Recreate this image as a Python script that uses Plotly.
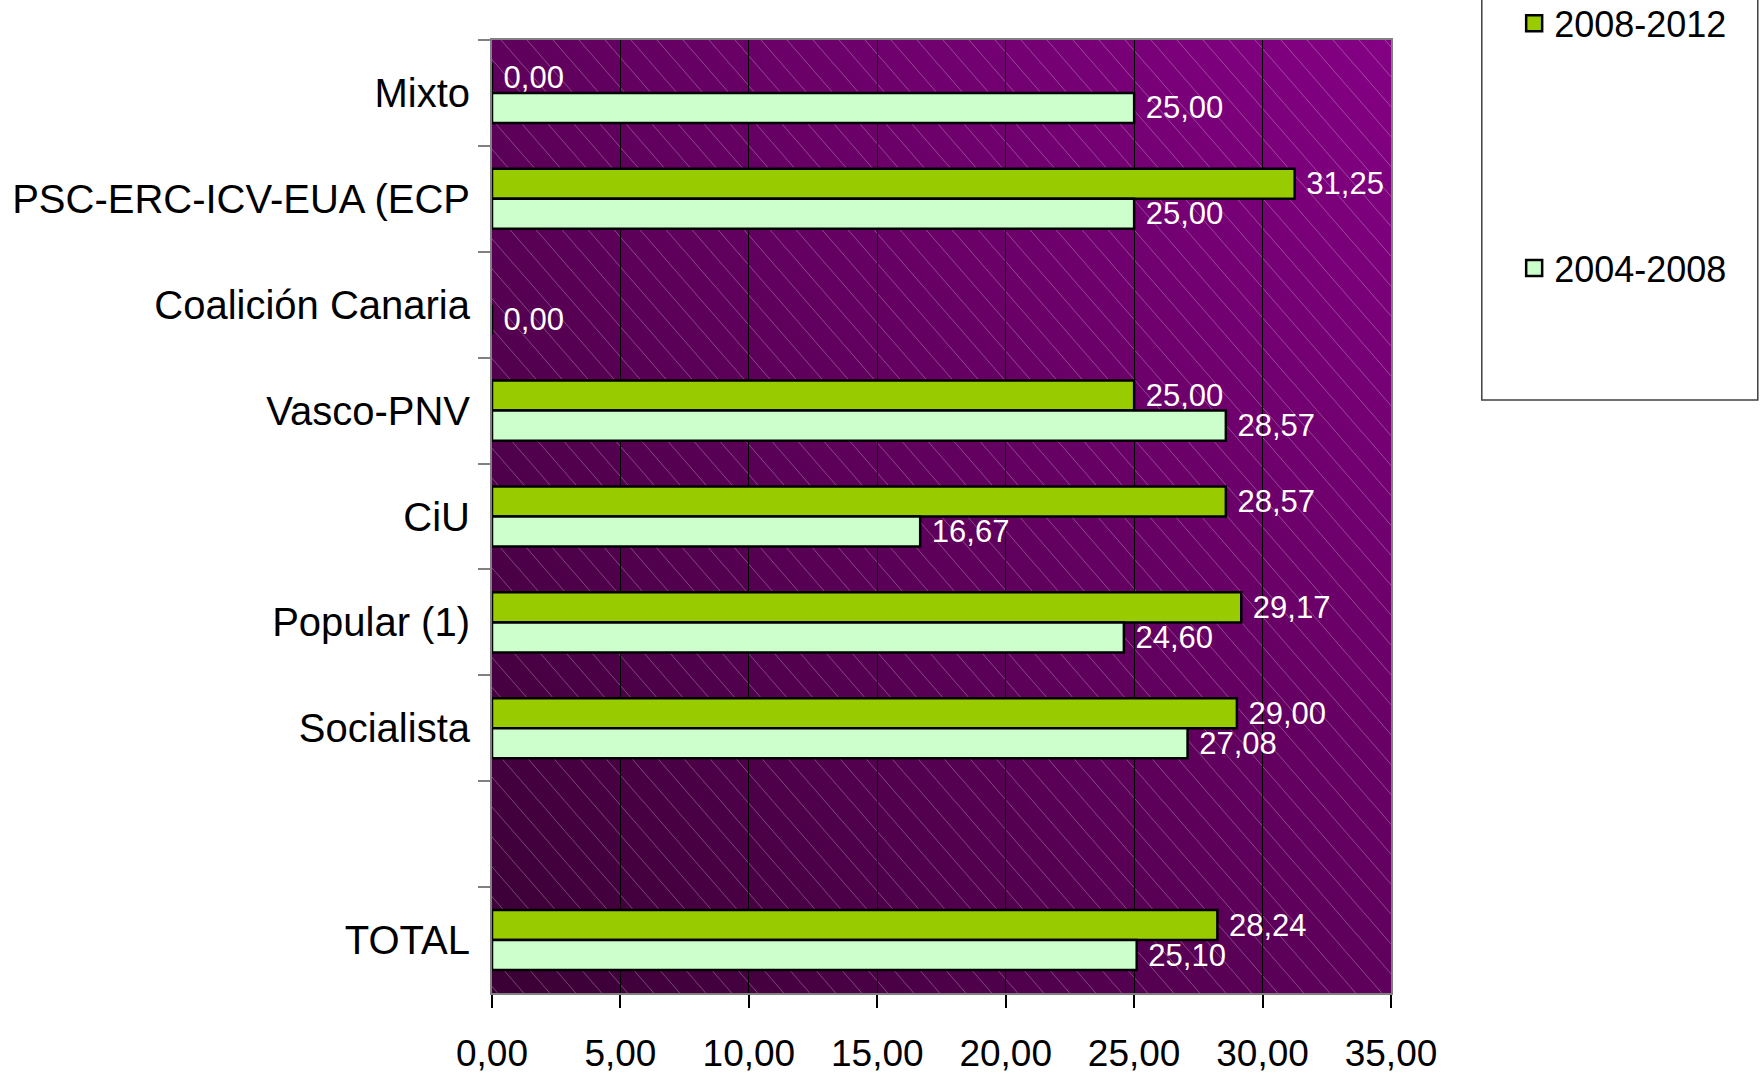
import base64
import plotly.graph_objects as go

# ---- data (top to bottom) ----
categories = ["Mixto", "PSC-ERC-ICV-EUA (ECP", "Coalición Canaria", "Vasco-PNV",
              "CiU", "Popular (1)", "Socialista", " ", "TOTAL"]
v_2008_2012 = [0.00, 31.25, None, 25.00, 28.57, 29.17, 29.00, None, 28.24]
v_2004_2008 = [25.00, 25.00, 0.00, 28.57, 16.67, 24.60, 27.08, None, 25.10]
series_names = ["2008-2012", "2004-2008"]
series_colors = ["#99CC00", "#CCFFCC"]
x_ticks = [0, 5, 10, 15, 20, 25, 30, 35]

FONT = "Liberation Sans, Arial, sans-serif"

# background: diagonal purple gradient with light hatch lines
W, H = 899, 953
lines = []
step = 26
for i in range(-H, W + H, step):
    lines.append(f'<line x1="{i}" y1="0" x2="{i + H / 1.15:.1f}" y2="{H}" />')
svg = f'''<svg xmlns="http://www.w3.org/2000/svg" width="{W}" height="{H}" viewBox="0 0 {W} {H}" preserveAspectRatio="none">
<defs><linearGradient id="g" x1="0" y1="1" x2="1" y2="0">
<stop offset="0" stop-color="#3a0034"/><stop offset="1" stop-color="#840084"/></linearGradient></defs>
<rect width="{W}" height="{H}" fill="url(#g)"/>
<g stroke="#ffffff" stroke-opacity="0.28" stroke-width="1">{''.join(lines)}</g>
</svg>'''
src = "data:image/svg+xml;base64," + base64.b64encode(svg.encode()).decode()

fig = go.Figure()
for name, vals, col in zip(series_names, [v_2008_2012, v_2004_2008], series_colors):
    fig.add_trace(go.Bar(
        y=categories, x=vals, name=name, orientation="h",
        marker=dict(color=col, line=dict(color="black", width=2.5)),
        texttemplate="\u00a0%{x:.2f}", textposition="outside",
        textfont=dict(color="white", size=31, family=FONT),
        cliponaxis=False, constraintext="none", showlegend=False,
    ))
# legend entries
for name, col in zip(series_names, series_colors):
    fig.add_trace(go.Scatter(
        x=[None], y=[None], mode="markers", name=name, legendgroup=name,
        marker=dict(symbol="square", size=16, color=col, line=dict(color="black", width=2.5)),
    ))

fig.update_layout(
    width=1760, height=1075,
    margin=dict(l=492, r=369, t=40, b=82, autoexpand=False),
    paper_bgcolor="white", plot_bgcolor="#5e005a",
    barmode="group", bargap=0.433, bargroupgap=0,
    separators=",.",
    font=dict(family=FONT, color="black"),
    images=[dict(source=src, xref="paper", yref="paper", x=0, y=1, sizex=1, sizey=1,
                 xanchor="left", yanchor="top", sizing="stretch", layer="below")],
    legend=dict(x=1.137, xanchor="left", yref="paper", y=1.049, yanchor="top",
                font=dict(size=36, family=FONT), tracegroupgap=195,
                bgcolor="rgba(0,0,0,0)", borderwidth=0),
    shapes=[dict(type="rect", xref="paper", yref="paper", x0=1.101, x1=1.408, y0=0.6222, y1=1.06,
                 line=dict(color="#404040", width=1.5), fillcolor="rgba(0,0,0,0)", layer="below")],
)
fig.update_xaxes(
    range=[0, 35], tickvals=x_ticks, tickformat=".2f",
    ticks="outside", ticklen=13, tickcolor="black", tickwidth=1.5,
    showgrid=True, gridcolor="black", gridwidth=1,
    showline=True, linecolor="#808080", linewidth=2, mirror=True,
    tickfont=dict(size=37, family=FONT, color="black"), zeroline=False,
    ticklabelstandoff=14,
)
fig.update_yaxes(
    categoryorder="array", categoryarray=categories, autorange="reversed",
    ticks="outside", tickson="boundaries", ticklen=12, tickcolor="#808080", tickwidth=1.5,
    showgrid=False, showline=True, linecolor="#808080", linewidth=2, mirror=True,
    tickfont=dict(size=40, family=FONT, color="black"),
    ticklabelstandoff=12,
)

fig.write_html("out.html", config={"displayModeBar": False},
               post_script="document.body.style.margin='0';document.body.style.overflow='hidden';")
